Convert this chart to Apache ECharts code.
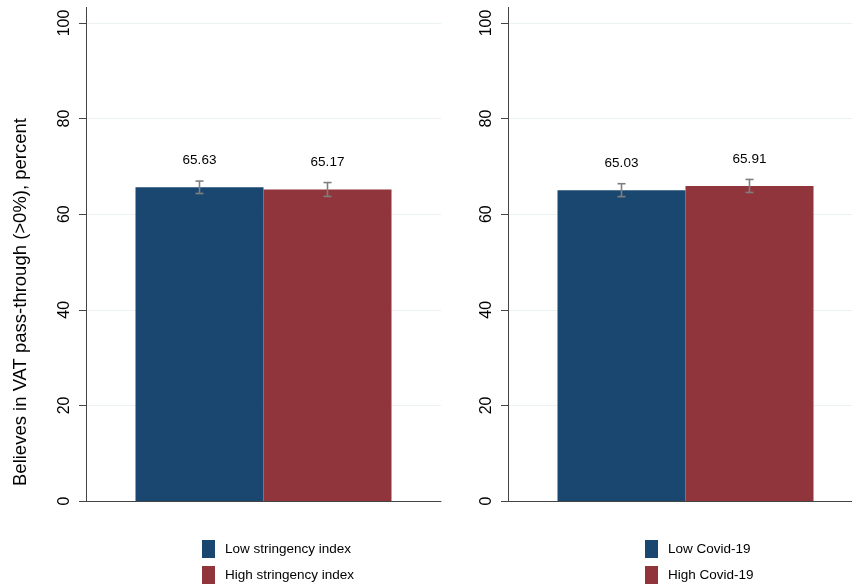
<!DOCTYPE html>
<html>
<head>
<meta charset="utf-8">
<script src="https://cdn.jsdelivr.net/npm/echarts@6/dist/echarts.min.js"></script>
<style>
html,body{margin:0;padding:0;background:#fff;}
#chart{width:852px;height:587px;}
</style>
</head>
<body>
<div id="chart"></div>
<script>
// ---- data ----
const leftNames = ['Low stringency index', 'High stringency index'];
const leftValues = [65.63, 65.17];
const leftLow = [64.33, 63.72];
const leftHigh = [66.93, 66.62];

const rightNames = ['Low Covid-19', 'High Covid-19'];
const rightValues = [65.03, 65.91];
const rightLow = [63.68, 64.55];
const rightHigh = [66.38, 67.27];

const yTicks = [0, 20, 40, 60, 80, 100];
const yTitle = 'Believes in VAT pass-through (>0%), percent';

// ---- style ----
const FONT = 'Liberation Sans, Arial, Helvetica, sans-serif';
const colors = ['#1a476f', '#90353b'];
const axisColor = '#444';
const gridColor = '#eaf2f3';
const BAR_W = 128;

const chart = echarts.init(document.getElementById('chart'), null, {renderer: 'canvas'});

function yAxisCfg(gi) {
  return {
    type: 'value', gridIndex: gi, min: yTicks[0], max: yTicks[yTicks.length - 1],
    interval: yTicks[1] - yTicks[0],
    axisLine: {show: true, lineStyle: {color: axisColor, width: 1}},
    axisTick: {show: true, length: 7, lineStyle: {color: axisColor}},
    splitLine: {show: true, lineStyle: {color: gridColor, width: 1}},
    axisLabel: {rotate: 90, fontSize: 16, color: '#000', fontFamily: FONT, margin: 13}
  };
}
function xAxisCfg(gi) {
  return {
    type: 'category', gridIndex: gi, data: [''],
    axisLine: {show: true, lineStyle: {color: axisColor, width: 1}},
    axisTick: {show: false}, axisLabel: {show: false}, splitLine: {show: false}
  };
}

function barSeries(name, value, ci, gi) {
  return {
    name: name, type: 'bar', xAxisIndex: gi, yAxisIndex: gi,
    data: [value], barWidth: BAR_W, barGap: '0%',
    itemStyle: {color: colors[ci]},
    label: {show: true, position: 'top', distance: 20, fontSize: 13.5, color: '#000', fontFamily: FONT,
      formatter: p => p.value.toFixed(2)},
    z: 2
  };
}

function errSeries(lows, highs, gi) {
  const data = lows.map((l, i) => [0, l, highs[i], i]);
  return {
    type: 'custom', xAxisIndex: gi, yAxisIndex: gi, z: 5, silent: true,
    data: data,
    renderItem: function (params, api) {
      const lo = api.coord([0, api.value(1)]);
      const hi = api.coord([0, api.value(2)]);
      const off = api.value(3) === 0 ? -BAR_W / 2 : BAR_W / 2;
      const x = lo[0] + off;
      const cap = 4;
      const st = {stroke: '#7f7f7f', lineWidth: 1.6};
      return {type: 'group', children: [
        {type: 'line', shape: {x1: x, y1: lo[1], x2: x, y2: hi[1]}, style: st},
        {type: 'line', shape: {x1: x - cap, y1: lo[1], x2: x + cap, y2: lo[1]}, style: st},
        {type: 'line', shape: {x1: x - cap, y1: hi[1], x2: x + cap, y2: hi[1]}, style: st}
      ]};
    }
  };
}

function legendCfg(names, left) {
  return {
    data: names, orient: 'vertical', left: left, top: 540, padding: 0, height: 60,
    icon: 'rect', itemWidth: 13, itemHeight: 18, itemGap: 8,
    textStyle: {fontSize: 13.5, color: '#000', fontFamily: FONT, padding: [0, 0, 0, 5]},
    selectedMode: false
  };
}

const option = {
  backgroundColor: '#fff',
  animation: false,
  grid: [
    {left: 86, top: 23, width: 355, height: 478, outerBoundsMode: 'none', containLabel: false},
    {left: 508, top: 23, width: 355, height: 478, outerBoundsMode: 'none', containLabel: false}
  ],
  xAxis: [xAxisCfg(0), xAxisCfg(1)],
  yAxis: [yAxisCfg(0), yAxisCfg(1)],
  legend: [legendCfg(leftNames, 202), legendCfg(rightNames, 645)],
  series: [
    barSeries(leftNames[0], leftValues[0], 0, 0),
    barSeries(leftNames[1], leftValues[1], 1, 0),
    errSeries(leftLow, leftHigh, 0),
    barSeries(rightNames[0], rightValues[0], 0, 1),
    barSeries(rightNames[1], rightValues[1], 1, 1),
    errSeries(rightLow, rightHigh, 1)
  ],
  graphic: [
    {type: 'line', shape: {x1: 86.5, y1: 7, x2: 86.5, y2: 23}, style: {stroke: axisColor, lineWidth: 1}},
    {type: 'line', shape: {x1: 508.5, y1: 7, x2: 508.5, y2: 23}, style: {stroke: axisColor, lineWidth: 1}},
    {type: 'text', x: 21, y: 302, rotation: Math.PI / 2,
      style: {text: yTitle, fontSize: 18.5, fill: '#000', fontFamily: FONT, align: 'center', verticalAlign: 'middle'}}
  ]
};
chart.setOption(option);
</script>
</body>
</html>
